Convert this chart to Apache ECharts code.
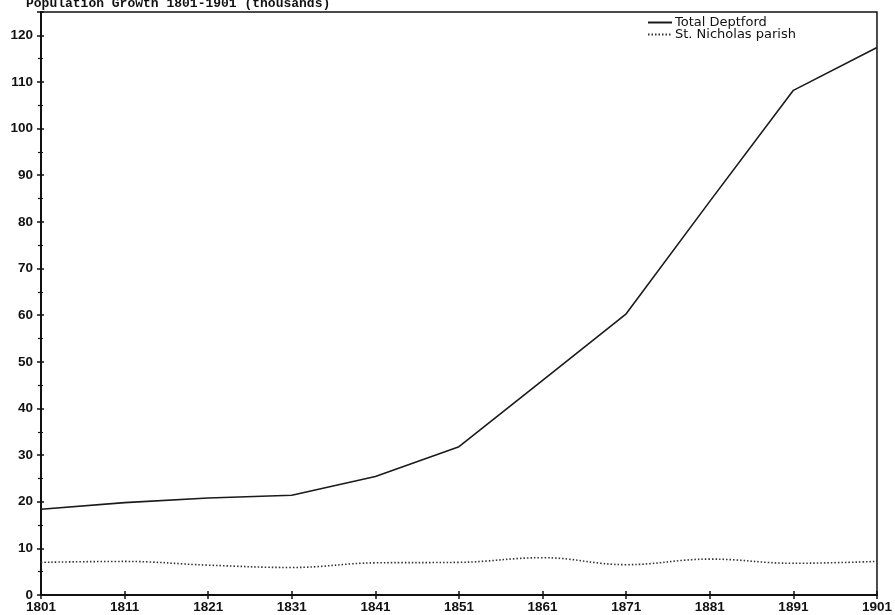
<!DOCTYPE html>
<html>
<head>
<meta charset="utf-8">
<script src="https://cdn.jsdelivr.net/npm/echarts@6/dist/echarts.min.js"></script>
<style>html,body{margin:0;padding:0;background:#fff}#c{width:895px;height:615px}</style>
</head>
<body>
<div id="c"></div>
<script>
var years = ['1801','1811','1821','1831','1841','1851','1861','1871','1881','1891','1901'];
var totalDeptford = [18.4, 19.8, 20.8, 21.4, 25.4, 31.8, 46.0, 60.3, 84.4, 108.2, 117.4];
var stNicholas = [7.0, 7.2, 6.4, 5.9, 6.9, 7.0, 8.0, 6.5, 7.7, 6.8, 7.2];
var seriesNames = ['Total Deptford', 'St. Nicholas parish'];
var titleText = 'Population Growth 1801-1901 (thousands)';

var chart = echarts.init(document.getElementById('c'));
var axisFont = {fontFamily: 'Liberation Sans', fontSize: 13.5, fontWeight: 'bold', color: '#111'};
chart.setOption({
  backgroundColor: '#fff',
  animation: false,
  title: {
    text: titleText, left: 21, top: -8,
    textStyle: {fontFamily: 'Liberation Mono', fontWeight: 'bold', fontSize: 13, color: '#111'}
  },
  legend: {
    orient: 'vertical', left: 642, top: 11, itemGap: -1, itemWidth: 24, itemHeight: 10,
    itemStyle: {opacity: 0},
    textStyle: {fontFamily: 'DejaVu Sans', fontSize: 13, color: '#111', padding: [0,0,0,-2]},
    data: seriesNames
  },
  grid: {left: 41, right: 16, top: 12, bottom: 20, show: true, borderColor: '#111', borderWidth: 1.5, backgroundColor: '#fff'},
  xAxis: [{
    type: 'category', data: years, boundaryGap: false,
    axisLine: {lineStyle: {color: '#111', width: 2}},
    axisTick: {alignWithLabel: true, length: 4, lineStyle: {color: '#111', width: 1.5}},
    axisLabel: Object.assign({margin: 5}, axisFont),
    splitLine: {show: false}
  }, {
    type: 'category', data: years, boundaryGap: false, position: 'bottom',
    axisLine: {show: false},
    axisTick: {inside: true, length: 4, lineStyle: {color: '#111', width: 1.5}},
    axisLabel: {show: false}, splitLine: {show: false}
  }],
  yAxis: [{
    type: 'value', min: 0, max: 125, interval: 10,
    axisLine: {show: true, lineStyle: {color: '#111', width: 2}},
    axisTick: {show: true, length: 4, lineStyle: {color: '#111', width: 1.5}},
    minorTick: {show: true, splitNumber: 2, length: 3, lineStyle: {color: '#111', width: 1.2}},
    axisLabel: Object.assign({margin: 8, showMaxLabel: false, formatter: function(v){return v % 10 === 0 ? String(v) : '';}}, axisFont),
    splitLine: {show: false}
  }, {
    type: 'value', min: 0, max: 125, interval: 10, position: 'left',
    axisLine: {show: false},
    axisTick: {show: true, inside: true, length: 3, lineStyle: {color: '#111', width: 1.5}},
    minorTick: {show: true, splitNumber: 2, length: 2, lineStyle: {color: '#111', width: 1.2}},
    axisLabel: {show: false}, splitLine: {show: false}
  }],
  series: [{
    name: seriesNames[0], type: 'line', data: totalDeptford, symbol: 'none',
    lineStyle: {color: '#1a1a1a', width: 1.6}, itemStyle: {color: '#1a1a1a'}
  }, {
    name: seriesNames[1], type: 'line', data: stNicholas, symbol: 'none', smooth: 0.4,
    lineStyle: {color: '#333', width: 1.6, type: [1.5, 2]}, itemStyle: {color: '#333'}
  }]
});
</script>
</body>
</html>
